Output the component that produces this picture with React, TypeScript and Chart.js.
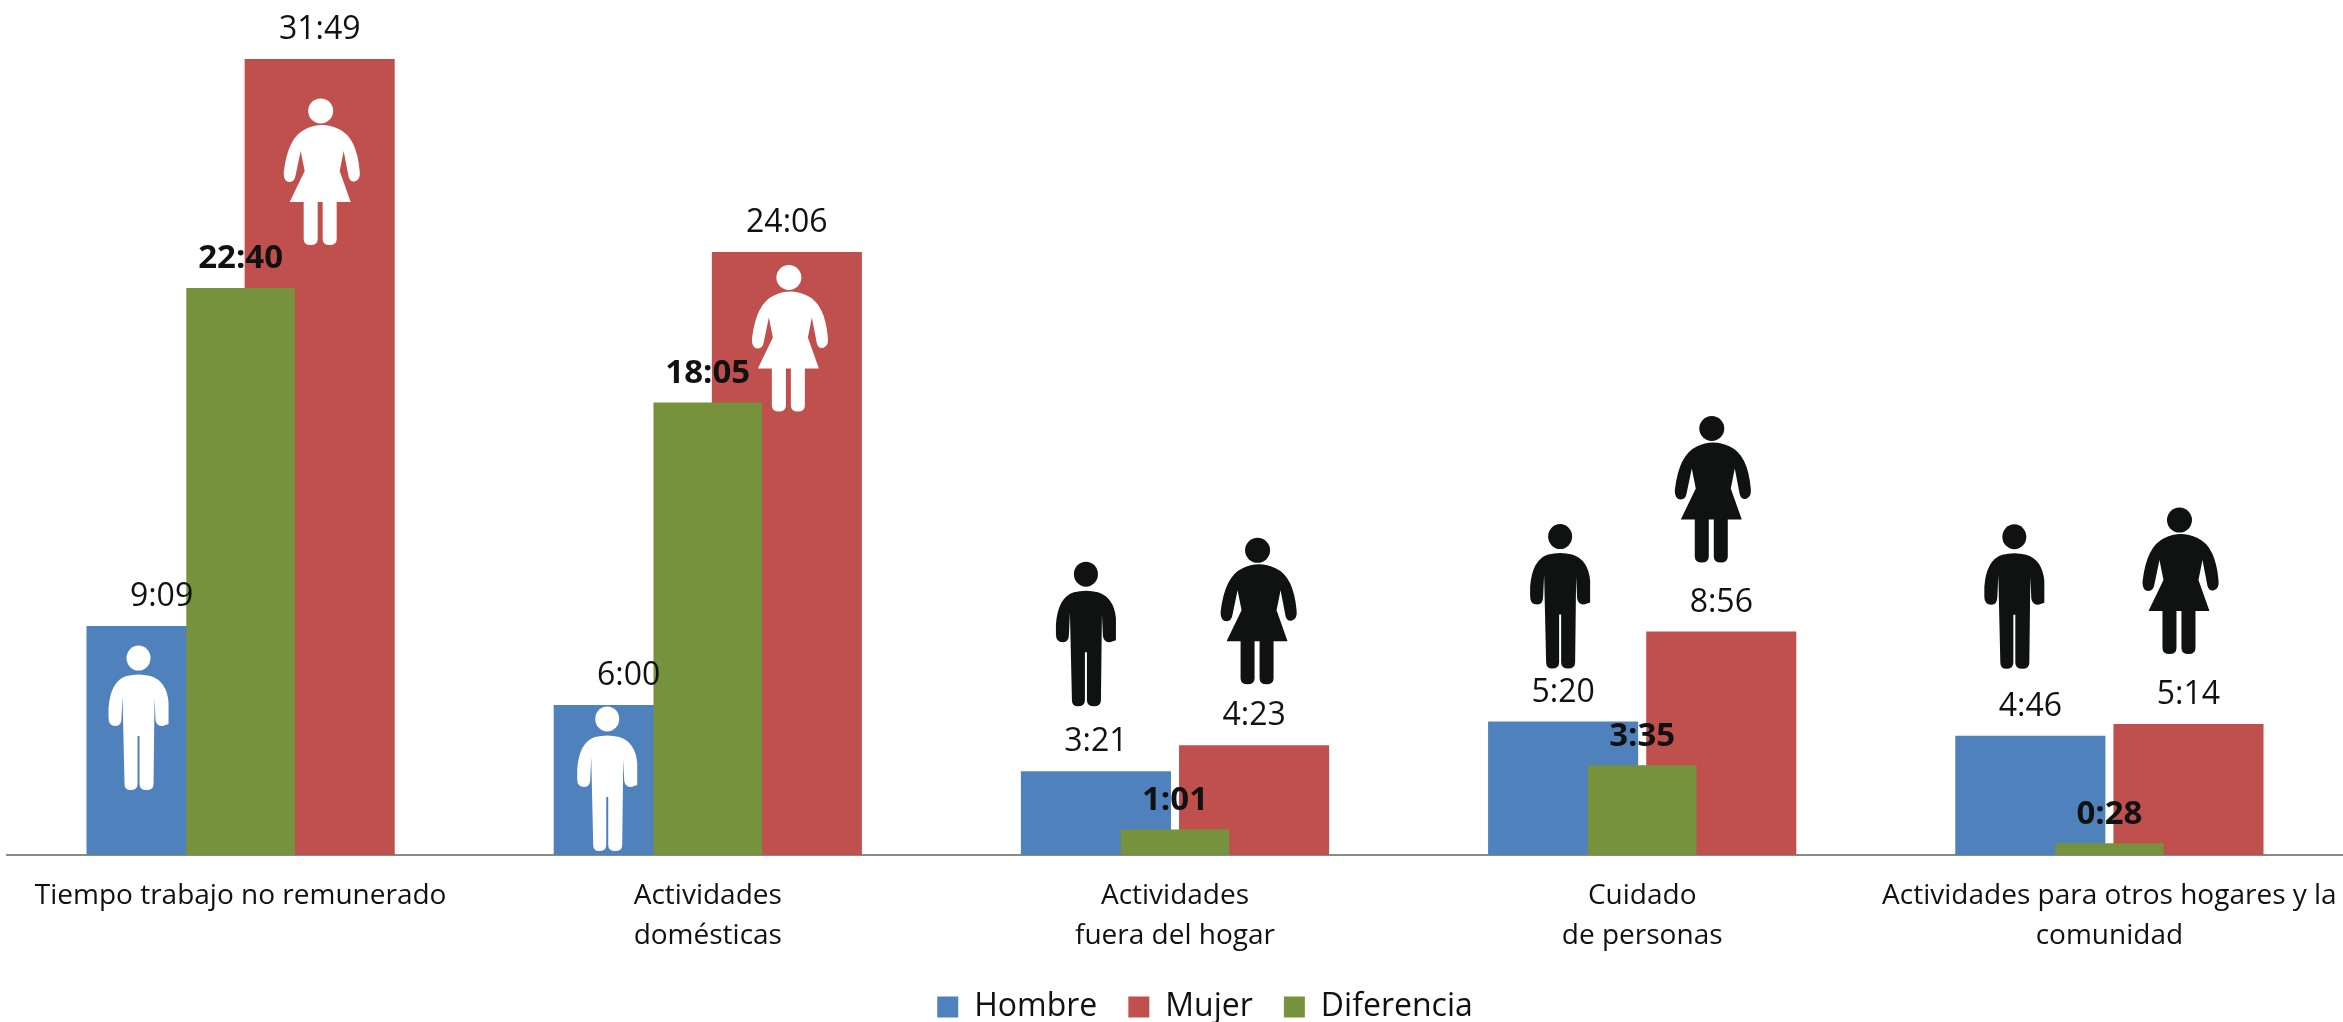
import React, { useEffect, useRef } from "react";
import { Chart, registerables } from "chart.js";

Chart.register(...registerables);

const categories: (string | string[])[] = [
  "Tiempo trabajo no remunerado",
  ["Actividades", "domésticas"],
  ["Actividades", "fuera del hogar"],
  ["Cuidado", "de personas"],
  ["Actividades para otros hogares y la", "comunidad"],
];
const hombre = ["9:09", "6:00", "3:21", "5:20", "4:46"];
const mujer = ["31:49", "24:06", "4:23", "8:56", "5:14"];
const diferencia = ["22:40", "18:05", "1:01", "3:35", "0:28"];

const toMinutes = (t: string) => {
  const [h, m] = t.split(":").map(Number);
  return h * 60 + m;
};

const FONT = '"Open Sans", sans-serif';
const INK = "#111111";

function drawMan(ctx: CanvasRenderingContext2D) {
  ctx.beginPath();
  ctx.ellipse(30, 12, 12, 12.5, 0, 0, Math.PI * 2);
  ctx.fill();
  ctx.beginPath();
  ctx.moveTo(16, 138);
  ctx.quadraticCurveTo(16, 144, 22, 144);
  ctx.quadraticCurveTo(29, 144, 29, 138);
  ctx.lineTo(29, 90);
  ctx.lineTo(31, 90);
  ctx.lineTo(31, 138);
  ctx.quadraticCurveTo(31, 144, 38, 144);
  ctx.quadraticCurveTo(45, 144, 45, 138);
  ctx.lineTo(46, 52);
  ctx.lineTo(47, 74);
  ctx.quadraticCurveTo(48, 80, 54, 80);
  ctx.lineTo(60, 78);
  ctx.lineTo(60, 56);
  ctx.quadraticCurveTo(58, 35, 42, 30);
  ctx.quadraticCurveTo(30, 27, 18, 30);
  ctx.quadraticCurveTo(2, 35, 0, 62);
  ctx.lineTo(0, 72);
  ctx.quadraticCurveTo(0, 80, 7, 80);
  ctx.quadraticCurveTo(13, 80, 13, 72);
  ctx.lineTo(14, 50);
  ctx.closePath();
  ctx.fill();
}

function drawWoman(ctx: CanvasRenderingContext2D) {
  ctx.beginPath();
  ctx.ellipse(37, 12, 12.5, 12.5, 0, 0, Math.PI * 2);
  ctx.fill();
  ctx.beginPath();
  ctx.moveTo(20, 103);
  ctx.lineTo(20, 140);
  ctx.quadraticCurveTo(20, 146, 27, 146);
  ctx.quadraticCurveTo(34, 146, 34, 140);
  ctx.lineTo(34, 103);
  ctx.lineTo(39, 103);
  ctx.lineTo(39, 140);
  ctx.quadraticCurveTo(39, 146, 46, 146);
  ctx.quadraticCurveTo(53, 146, 53, 140);
  ctx.lineTo(53, 103);
  ctx.lineTo(67, 103);
  ctx.lineTo(56, 72);
  ctx.lineTo(60, 52);
  ctx.lineTo(65, 78);
  ctx.quadraticCurveTo(67, 84, 72, 82);
  ctx.quadraticCurveTo(77, 80, 76, 72);
  ctx.quadraticCurveTo(73, 38, 55, 30);
  ctx.quadraticCurveTo(38, 22, 22, 30);
  ctx.quadraticCurveTo(4, 38, 0, 74);
  ctx.quadraticCurveTo(0, 83, 6, 83);
  ctx.quadraticCurveTo(11, 83, 12, 76);
  ctx.lineTo(17, 52);
  ctx.lineTo(21, 72);
  ctx.lineTo(6, 103);
  ctx.closePath();
  ctx.fill();
}

const pictograms = {
  id: "pictograms",
  afterDatasetsDraw(chart: any) {
    const ctx = chart.ctx as CanvasRenderingContext2D;
    const manPlace = [[-23, 20], [-21.5, 2], [-10, -209], [-3, -197], [-16, -211]];
    const womanPlace = [[2, 40], [3, 13.5], [4.5, -207], [-8.5, -215], [-8, -216]];
    const colours = ["#ffffff", "#ffffff", "#0f1210", "#0f1210", "#0f1210"];
    categories.forEach((_, i) => {
      const man = chart.getDatasetMeta(0).data[i];
      const woman = chart.getDatasetMeta(1).data[i];
      ctx.save();
      ctx.fillStyle = colours[i];
      ctx.translate(man.x + manPlace[i][0] - 30, man.y + manPlace[i][1]);
      drawMan(ctx);
      ctx.restore();
      ctx.save();
      ctx.fillStyle = colours[i];
      ctx.translate(woman.x + womanPlace[i][0] - 38, woman.y + womanPlace[i][1]);
      drawWoman(ctx);
      ctx.restore();
    });
  },
};

const valueLabels = {
  id: "valueLabels",
  afterDatasetsDraw(chart: any) {
    const ctx = chart.ctx as CanvasRenderingContext2D;
    const sets = [hombre, mujer, diferencia];
    ctx.save();
    ctx.textAlign = "center";
    ctx.textBaseline = "middle";
    ctx.fillStyle = INK;
    sets.forEach((texts, d) => {
      ctx.font = `${d === 2 ? "bold 33px" : "32px"} ${FONT}`;
      chart.getDatasetMeta(d).data.forEach((bar: any, i: number) => {
        ctx.fillText(texts[i], bar.x, bar.y - 29);
      });
    });
    ctx.restore();
  },
};

const legendShift = {
  id: "legendShift",
  afterLayout(chart: any) {
    chart.legend.left += 30;
    chart.legend.right += 30;
  },
};

export default function App() {
  const ref = useRef<HTMLCanvasElement>(null);
  useEffect(() => {
    document.body.style.margin = "0";
    const chart = new Chart(ref.current!, {
      type: "bar",
      data: {
        labels: categories as any,
        datasets: [
          {
            label: "Hombre",
            data: hombre.map(toMinutes),
            backgroundColor: "#4F81BD",
            order: 2,
            categoryPercentage: 0.677,
            barPercentage: 0.949,
          },
          {
            label: "Mujer",
            data: mujer.map(toMinutes),
            backgroundColor: "#C0504D",
            order: 2,
            categoryPercentage: 0.677,
            barPercentage: 0.949,
          },
          {
            label: "Diferencia",
            data: diferencia.map(toMinutes),
            backgroundColor: "#76923C",
            order: 1,
            grouped: false,
            categoryPercentage: 1,
            barPercentage: 0.2325,
          },
        ],
      },
      options: {
        responsive: false,
        animation: false,
        layout: { padding: { top: 21, left: 7, right: 0, bottom: -11 } },
        scales: {
          x: {
            type: "category",
            offset: true,
            grid: { display: false },
            border: { color: "#8a8a8a", width: 2 },
            ticks: {
              color: INK,
              font: { family: FONT, size: 28, lineHeight: 1.43 },
              padding: 13,
              maxRotation: 0,
              autoSkip: false,
            },
            afterFit: (s: any) => {
              s.height = 105;
              s.paddingLeft = 0;
              s.paddingRight = 0;
            },
          },
          y: { display: false, min: 0, max: 2000 },
        },
        plugins: {
          tooltip: { enabled: false },
          legend: {
            position: "bottom",
            labels: {
              boxWidth: 21,
              boxHeight: 21,
              padding: 31,
              color: INK,
              font: { family: FONT, size: 32 },
              sort: (a: any, b: any) => a.datasetIndex - b.datasetIndex,
            },
          },
        },
      } as any,
      plugins: [valueLabels, pictograms, legendShift],
    });
    return () => chart.destroy();
  }, []);
  return (
    <div style={{ width: 2343, height: 1022 }}>
      <canvas ref={ref} width={2343} height={1022} style={{ display: "block" }} />
    </div>
  );
}
